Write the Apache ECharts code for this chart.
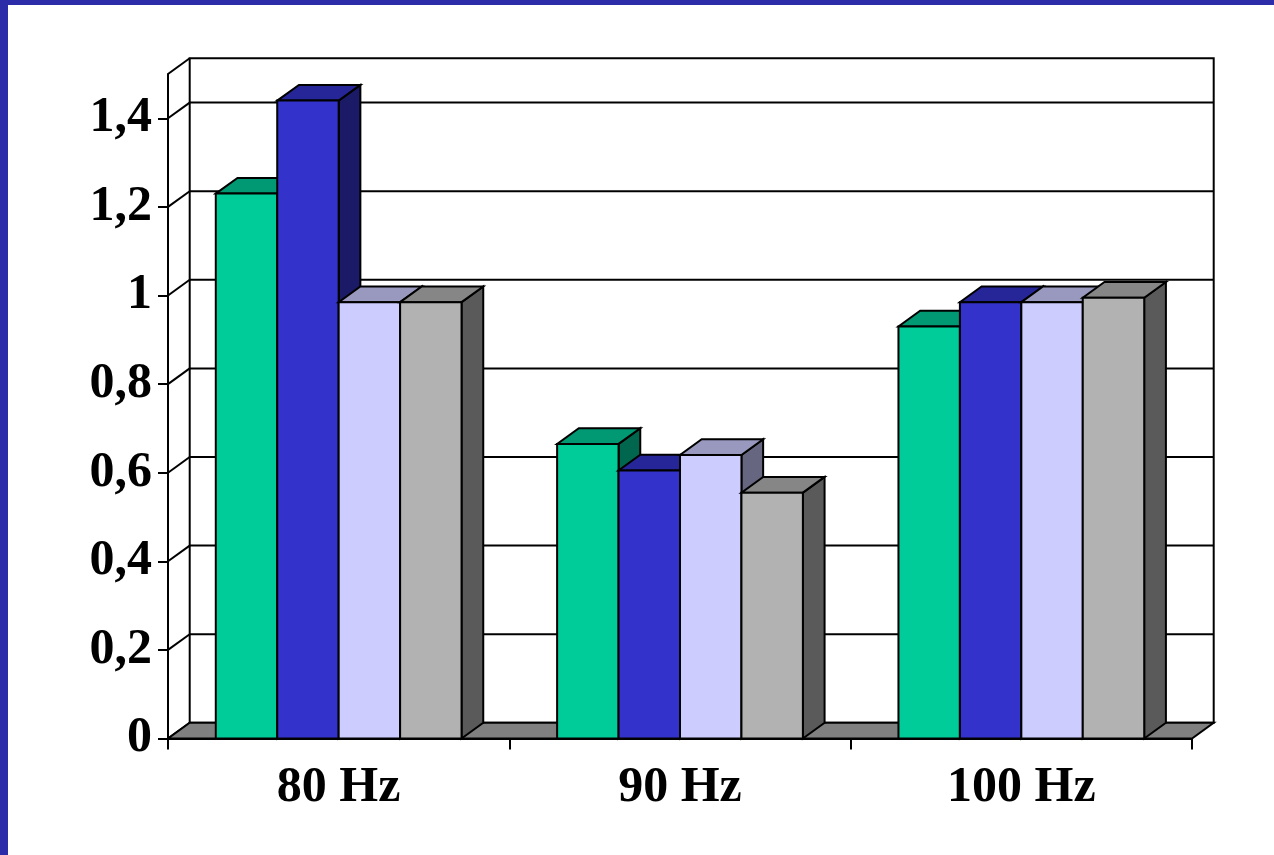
<!DOCTYPE html>
<html>
<head>
<meta charset="utf-8">
<title>80 / 90 / 100 Hz</title>
<script src="https://cdn.jsdelivr.net/npm/echarts@6/dist/echarts.min.js"></script>
<style>
  html, body { margin: 0; padding: 0; background: #ffffff; }
  #wrap { position: relative; width: 1274px; height: 855px; overflow: hidden; }
  #chart { position: absolute; left: 0; top: 0; width: 1274px; height: 855px; }
  .band { position: absolute; background: #2C2CA8; }
  #bandTop { left: 0; top: 0; width: 1274px; height: 5px; }
  #bandLeft { left: 0; top: 0; width: 8px; height: 855px; }
</style>
</head>
<body>
<div id="wrap">
  <div id="chart"></div>
  <div class="band" id="bandTop"></div>
  <div class="band" id="bandLeft"></div>
</div>
<script>
// Categories and the four measured series
const categories = ['80 Hz', '90 Hz', '100 Hz'];
const seriesGreen = [1.23, 0.665, 0.93];
const seriesBlue = [1.44, 0.605, 0.985];
const seriesLavender = [0.985, 0.64, 0.985];
const seriesGray = [0.985, 0.555, 0.995];

// Value axis ticks and their labels (decimal comma)
const yTickValues = [0, 0.2, 0.4, 0.6, 0.8, 1, 1.2, 1.4];
const yTickLabels = ['0', '0,2', '0,4', '0,6', '0,8', '1', '1,2', '1,4'];
const yMax = 1.5;

// Pseudo-3D geometry
const DX = 21.7;        // depth offset to the right
const DY = 15.7;        // depth offset upwards
const BAR_FRAC = 0.18;  // bar width as a share of one category

const FONT = 'Liberation Serif';
const FONT_SIZE = 50;
const INK = '#000000';

// Back wall, gridlines, side-wall diagonals and floor
function renderFrame(params, api) {
  const cs = params.coordSys;
  const x0 = cs.x, x1 = cs.x + cs.width;
  const yOf = v => api.coord([0, v])[1];
  const yb = yOf(0), yt = yOf(yMax);
  const line = { stroke: INK, lineWidth: 2 };
  const children = [];
  children.push({
    type: 'rect',
    shape: { x: x0 + DX, y: yt - DY, width: x1 - x0, height: yb - yt },
    style: { fill: '#ffffff', stroke: INK, lineWidth: 2 }
  });
  yTickValues.forEach(v => {
    if (v <= 0) return;
    const y = yOf(v);
    children.push({ type: 'line', shape: { x1: x0 + DX, y1: y - DY, x2: x1 + DX, y2: y - DY }, style: line });
  });
  yTickValues.concat([yMax]).forEach(v => {
    const y = yOf(v);
    children.push({ type: 'line', shape: { x1: x0, y1: y, x2: x0 + DX, y2: y - DY }, style: line });
  });
  children.push({
    type: 'polygon',
    shape: { points: [[x0, yb], [x1, yb], [x1 + DX, yb - DY], [x0 + DX, yb - DY]] },
    style: { fill: '#808080', stroke: INK, lineWidth: 2, lineJoin: 'miter' }
  });
  return { type: 'group', children: children };
}

// One 3D bar: front face, top face and right side face
function barRenderer(k, front, top, side) {
  return function (params, api) {
    const i = api.value(0), v = api.value(1);
    const pTop = api.coord([i, v]);
    const pBase = api.coord([i, 0]);
    const cw = api.size([1, 0])[0];
    const bw = cw * BAR_FRAC;
    const xl = pTop[0] - 2 * bw + k * bw;
    const xr = xl + bw;
    const yt = pTop[1], yb = pBase[1];
    const st = { stroke: INK, lineWidth: 2, lineJoin: 'miter' };
    return {
      type: 'group',
      children: [
        { type: 'polygon', shape: { points: [[xr, yb], [xr + DX, yb - DY], [xr + DX, yt - DY], [xr, yt]] },
          style: Object.assign({ fill: side }, st) },
        { type: 'polygon', shape: { points: [[xl, yt], [xr, yt], [xr + DX, yt - DY], [xl + DX, yt - DY]] },
          style: Object.assign({ fill: top }, st) },
        { type: 'rect', shape: { x: xl, y: yt, width: bw, height: yb - yt },
          style: Object.assign({ fill: front }, st) }
      ]
    };
  };
}

function barSeries(name, values, k, front, top, side) {
  return {
    name: name,
    type: 'custom',
    clip: false,
    renderItem: barRenderer(k, front, top, side),
    data: values.map((v, i) => [i, v]),
    encode: { x: 0, y: 1 }
  };
}

const chart = echarts.init(document.getElementById('chart'), null, { renderer: 'canvas' });
chart.setOption({
  animation: false,
  backgroundColor: '#ffffff',
  grid: { left: 168, right: 82, top: 74, bottom: 116.5, containLabel: false },
  xAxis: {
    type: 'category',
    data: categories,
    axisLine: { show: true, lineStyle: { color: INK, width: 2 } },
    axisTick: { show: true, length: 11, lineStyle: { color: INK, width: 2 } },
    axisLabel: { color: INK, fontFamily: FONT, fontWeight: 'bold', fontSize: FONT_SIZE, margin: 25 },
    splitLine: { show: false }
  },
  yAxis: {
    type: 'value',
    min: 0,
    max: yMax,
    interval: 0.2,
    axisLine: { show: true, lineStyle: { color: INK, width: 2 } },
    axisTick: { show: true, length: 10, customValues: yTickValues, lineStyle: { color: INK, width: 2 } },
    axisLabel: {
      color: INK, fontFamily: FONT, fontWeight: 'bold', fontSize: FONT_SIZE, margin: 16,
      customValues: yTickValues,
      formatter: function (value) {
        const idx = yTickValues.findIndex(t => Math.abs(t - value) < 1e-9);
        return idx >= 0 ? yTickLabels[idx] : '';
      }
    },
    splitLine: { show: false }
  },
  series: [
    { type: 'custom', name: 'frame', clip: false, renderItem: renderFrame, data: [[0, 0]], encode: { x: 0, y: 1 }, silent: true },
    barSeries('A', seriesGreen, 0, '#00CC99', '#009973', '#00664D'),
    barSeries('B', seriesBlue, 1, '#3333CC', '#262699', '#1A1A66'),
    barSeries('C', seriesLavender, 2, '#CCCCFF', '#9999BF', '#666680'),
    barSeries('D', seriesGray, 3, '#B2B2B2', '#868686', '#5A5A5A')
  ]
});
</script>
</body>
</html>
